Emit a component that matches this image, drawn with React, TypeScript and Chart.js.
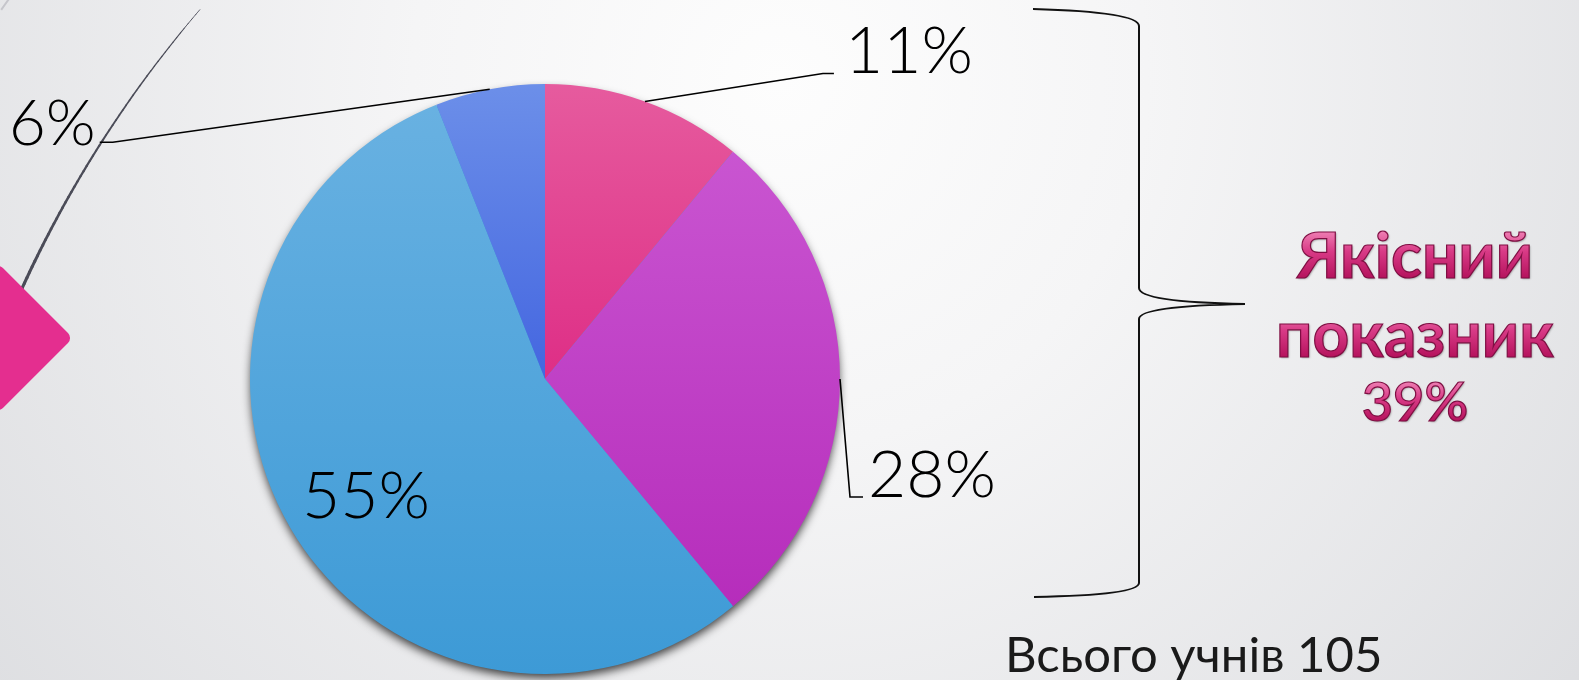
import React, { useEffect, useRef } from 'react';
import { Chart, registerables } from 'chart.js';

Chart.register(...registerables);

const WIDTH = 1579;
const HEIGHT = 680;

// ---- data ----
const categories = ['11%', '28%', '55%', '6%'];
const values = [11, 28, 55, 6];
const summaryLines = ['Якісний', 'показник', '39%'];
const totalLine = 'Всього учнів 105';

// ---- styles ----
const sliceGradients: [number, string][][] = [
  [[0, '#e65b9e'], [0.5, '#de2e86'], [1, '#d81a7c']],
  [[0, '#cc5bd4'], [1, '#b327b8']],
  [[0, '#6ab2e2'], [1, '#3d9ad6']],
  [[0, '#6c8fe9'], [0.5, '#4466e0'], [1, '#3a58d8']],
];

// label layout relative to slice anchor (outer edge at mid angle) or centre
const labelPlacement = [
  { leader: true, elbow: [178, -28], end: [189, -28], text: [200, -28], align: 'left', size: 66 },
  { leader: true, elbow: [10, 118], end: [23, 118], text: [28, 118], align: 'left', size: 66 },
  { leader: false, text: [-243, 139], align: 'left', size: 66 },
  { leader: true, elbow: [-377, 53], end: [-390, 53], text: [-394, 56], align: 'right', size: 64 },
];

const summaryStyle = [
  { size: 64, weight: 'bold', baseline: 278 },
  { size: 64, weight: 'bold', baseline: 357 },
  { size: 54, weight: '600', baseline: 421 },
];

const backgroundPlugin = {
  id: 'slideBackground',
  beforeDraw(chart: any) {
    const ctx: CanvasRenderingContext2D = chart.ctx;
    ctx.save();
    const g = ctx.createRadialGradient(780, 80, 0, 780, 80, 1050);
    g.addColorStop(0, '#fdfdfd');
    g.addColorStop(0.35, '#f5f5f6');
    g.addColorStop(1, '#dcdde0');
    ctx.fillStyle = g;
    ctx.fillRect(0, 0, WIDTH, HEIGHT);

    // faint outer arc (top-left corner)
    ctx.beginPath();
    ctx.arc(1095, 777, 1336, -2.53, -2.47);
    ctx.strokeStyle = 'rgba(190,190,196,0.8)';
    ctx.lineWidth = 2;
    ctx.stroke();

    // dark decorative arc with tapering width
    const cx = 1095, cy = 777, r = 1179;
    const a0 = -2.74, a1 = -2.433;
    const steps = 60;
    ctx.strokeStyle = '#4b4c58';
    ctx.lineCap = 'round';
    for (let i = 0; i < steps; i++) {
      const t0 = a0 + ((a1 - a0) * i) / steps;
      const t1 = a0 + ((a1 - a0) * (i + 1)) / steps;
      ctx.beginPath();
      ctx.arc(cx, cy, r, t0, t1);
      ctx.lineWidth = 3.4 - (2.6 * i) / steps;
      ctx.stroke();
    }

    // pink diamond
    ctx.save();
    ctx.translate(-2, 338);
    ctx.rotate(Math.PI / 4);
    ctx.beginPath();
    const s = 106;
    (ctx as any).roundRect(-s / 2, -s / 2, s, s, 7);
    ctx.fillStyle = '#e42e8f';
    ctx.fill();
    ctx.restore();

    // curly brace
    ctx.beginPath();
    ctx.moveTo(1033, 9);
    ctx.quadraticCurveTo(1139, 12, 1139, 26);
    ctx.lineTo(1139, 288);
    ctx.quadraticCurveTo(1139, 302, 1245, 304);
    ctx.quadraticCurveTo(1139, 306, 1139, 319);
    ctx.lineTo(1139, 583);
    ctx.quadraticCurveTo(1139, 595, 1034, 597);
    ctx.strokeStyle = '#111';
    ctx.lineWidth = 2;
    ctx.lineCap = 'butt';
    ctx.stroke();

    // summary text
    ctx.textAlign = 'center';
    ctx.textBaseline = 'alphabetic';
    summaryLines.forEach((line, i) => {
      const st = summaryStyle[i];
      const y = st.baseline;
      ctx.font = `${st.weight} ${st.size}px Lato, "Noto Sans", sans-serif`;
      const tg = ctx.createLinearGradient(0, y - st.size * 0.75, 0, y);
      tg.addColorStop(0, '#f083b6');
      tg.addColorStop(0.45, '#d83a86');
      tg.addColorStop(1, '#b5135d');
      ctx.save();
      ctx.shadowColor = 'rgba(0,0,0,0.35)';
      ctx.shadowBlur = 2;
      ctx.shadowOffsetX = 1;
      ctx.shadowOffsetY = 1;
      ctx.fillStyle = tg;
      ctx.fillText(line, 1415, y);
      ctx.restore();
      ctx.strokeStyle = '#7e0e42';
      ctx.lineWidth = 1.2;
      ctx.strokeText(line, 1415, y);
    });

    ctx.textAlign = 'left';
    ctx.font = '49px Lato, "Noto Sans", sans-serif';
    ctx.fillStyle = '#1a1a1a';
    ctx.fillText(totalLine, 1005, 672);
    ctx.restore();
  },
};

const shadowPlugin = {
  id: 'pieShadow',
  beforeDatasetsDraw(chart: any) {
    const el = chart.getDatasetMeta(0).data[0];
    if (!el) return;
    const p = el.getProps(['x', 'y', 'outerRadius'], true);
    const ctx: CanvasRenderingContext2D = chart.ctx;
    ctx.save();
    ctx.shadowColor = 'rgba(0,0,0,0.75)';
    ctx.shadowBlur = 10;
    ctx.shadowOffsetY = 5;
    ctx.beginPath();
    ctx.arc(p.x, p.y, p.outerRadius - 1, 0, Math.PI * 2);
    ctx.fillStyle = '#3d9ad6';
    ctx.fill();
    ctx.restore();
  },
};

const labelsPlugin = {
  id: 'sliceLabels',
  afterDatasetsDraw(chart: any) {
    const ctx: CanvasRenderingContext2D = chart.ctx;
    const meta = chart.getDatasetMeta(0);
    meta.data.forEach((el: any, i: number) => {
      const p = el.getProps(['x', 'y', 'startAngle', 'endAngle', 'outerRadius'], true);
      const mid = (p.startAngle + p.endAngle) / 2;
      const ax = p.x + Math.cos(mid) * p.outerRadius;
      const ay = p.y + Math.sin(mid) * p.outerRadius;
      const pl: any = labelPlacement[i];
      let tx: number, ty: number;
      ctx.save();
      if (pl.leader) {
        ctx.beginPath();
        ctx.moveTo(ax, ay);
        ctx.lineTo(ax + pl.elbow[0], ay + pl.elbow[1]);
        ctx.lineTo(ax + pl.end[0], ay + pl.end[1]);
        ctx.strokeStyle = '#000';
        ctx.lineWidth = 1.6;
        ctx.stroke();
        tx = ax + pl.text[0];
        ty = ay + pl.text[1];
      } else {
        tx = p.x + pl.text[0];
        ty = p.y + pl.text[1];
      }
      ctx.font = `300 ${pl.size}px Lato, "Noto Sans", sans-serif`;
      ctx.textAlign = pl.align;
      ctx.textBaseline = 'alphabetic';
      ctx.fillStyle = '#000';
      ctx.fillText(`${values[i]}%`, tx, ty);
      ctx.restore();
    });
  },
};

export default function App() {
  const ref = useRef<HTMLCanvasElement>(null);
  useEffect(() => {
    document.body.style.margin = '0';
    const canvas = ref.current;
    if (!canvas) return;
    const chart = new Chart(canvas, {
      type: 'pie',
      data: {
        labels: categories,
        datasets: [
          {
            data: values,
            borderWidth: 0,
            backgroundColor: (c: any) => {
              const area = c.chart.chartArea;
              const stops = sliceGradients[c.dataIndex] || sliceGradients[0];
              if (!area) return stops[0][1];
              const g = c.chart.ctx.createLinearGradient(0, area.top, 0, area.bottom);
              stops.forEach(([o, col]) => g.addColorStop(o, col));
              return g;
            },
          },
        ],
      },
      options: {
        responsive: false,
        maintainAspectRatio: false,
        devicePixelRatio: 1,
        animation: false,
        layout: { padding: { top: 84, bottom: 6, left: 250, right: 739 } },
        plugins: {
          legend: { display: false },
          tooltip: { enabled: false },
        },
      },
      plugins: [backgroundPlugin, shadowPlugin, labelsPlugin],
    });
    let alive = true;
    (document as any).fonts?.ready?.then(() => {
      if (alive) chart.update();
    });
    return () => {
      alive = false;
      chart.destroy();
    };
  }, []);
  return (
    <canvas
      ref={ref}
      width={WIDTH}
      height={HEIGHT}
      style={{ display: 'block', width: WIDTH, height: HEIGHT }}
    />
  );
}
